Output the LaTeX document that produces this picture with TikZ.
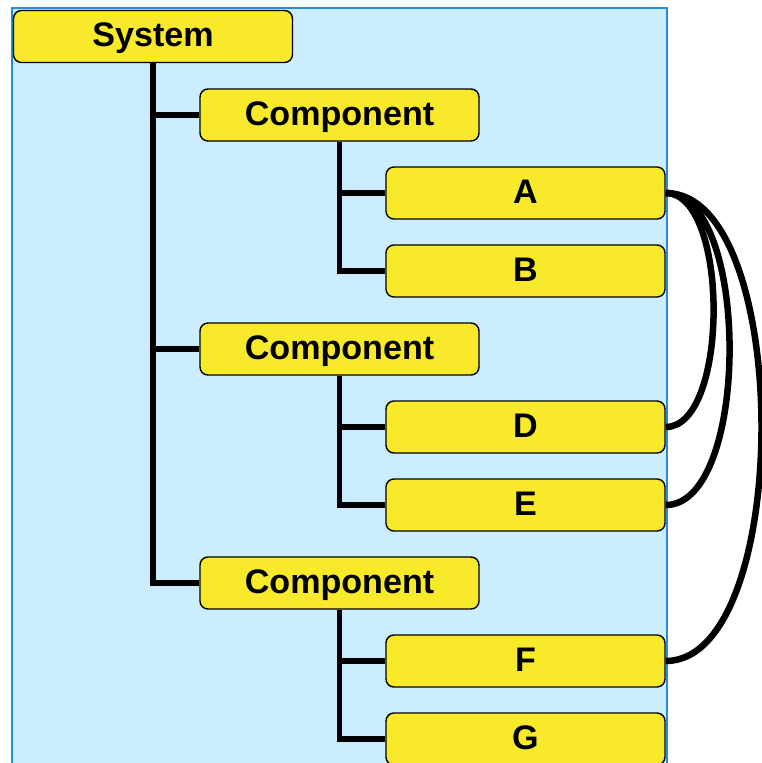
\documentclass[tikz,border=0pt]{standalone}
\usepackage{fontspec}
\setmainfont{Liberation Sans}
\definecolor{boxyellow}{RGB}{248,234,42}
\definecolor{paneblue}{RGB}{204,236,255}
\definecolor{paneedge}{RGB}{40,140,210}
\tikzset{
  part/.style={draw=black, line width=0.8pt, fill=boxyellow, rounded corners=0.16cm,
    minimum width=5.58cm, minimum height=1.04cm, inner sep=0pt,
    text height=0.49cm, text depth=0.08cm,
    font=\fontsize{19.4}{22}\selectfont\bfseries},
  branch/.style={line width=3.1pt},
  link/.style={line width=3.7pt, looseness=0.7}
}
\begin{document}
\begin{tikzpicture}
        \useasboundingbox (0,0) rectangle (15.24,-15.26);
        \draw[paneedge, fill=paneblue, line width=0.6pt] (0.24,-0.16) rectangle (13.34,-15.8);
        % tree
        \node[part] (sys) at (3.06,-0.73) {System};
        \node[part] (c1) at (6.79,-2.30) {Component};
        \node[part] (c2) at (6.79,-6.98) {Component};
        \node[part] (c3) at (6.79,-11.66) {Component};
        \node[part] (a) at (10.51,-3.86) {A};
        \node[part] (b) at (10.51,-5.42) {B};
        \node[part] (d) at (10.51,-8.54) {D};
        \node[part] (e) at (10.51,-10.10) {E};
        \node[part] (f) at (10.51,-13.22) {F};
        \node[part] (g) at (10.51,-14.78) {G};
        \draw[branch] (sys.south) |- (c1.west) (sys.south) |- (c2.west) (sys.south) |- (c3.west);
        \draw[branch] (c1.south) |- (a.west) (c1.south) |- (b.west);
        \draw[branch] (c2.south) |- (d.west) (c2.south) |- (e.west);
        \draw[branch] (c3.south) |- (f.west) (c3.south) |- (g.west);
        % links
        \draw[link] (a.east) to[out=0,in=0] (d.east);
        \draw[link] (a.east) to[out=0,in=0] (e.east);
        \draw[link] (a.east) to[out=0,in=0] (f.east);
    \end{tikzpicture}
\end{document}
